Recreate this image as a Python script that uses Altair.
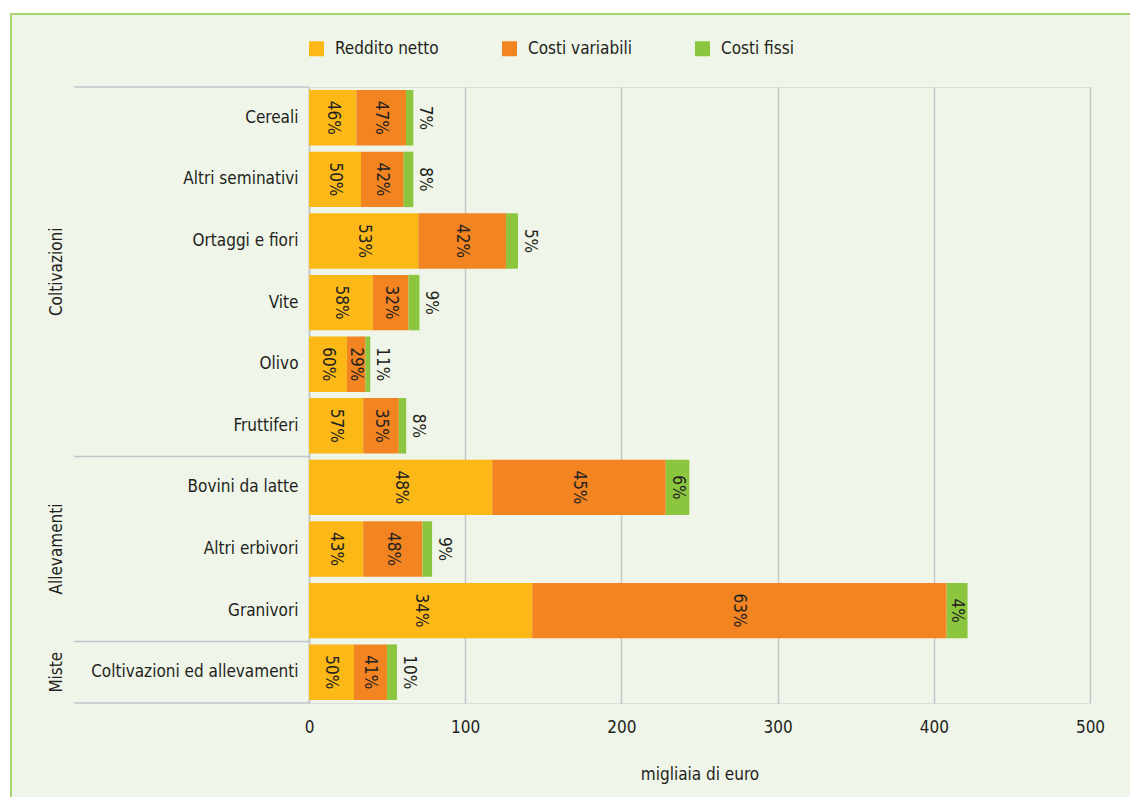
import altair as alt
import pandas as pd

# ---- data ----
categories = ["Cereali", "Altri seminativi", "Ortaggi e fiori", "Vite", "Olivo",
              "Fruttiferi", "Bovini da latte", "Altri erbivori", "Granivori",
              "Coltivazioni ed allevamenti"]
groups = ["Coltivazioni", "Allevamenti", "Miste"]
group_starts = ["Cereali", "Bovini da latte", "Coltivazioni ed allevamenti"]
series = ["Reddito netto", "Costi variabili", "Costi  fissi"]
colors = ["#FBB817", "#F38422", "#8CC63F"]

reddito = [30.3, 33.3, 70.0, 40.9, 24.3, 34.7, 117.3, 34.7, 142.9, 28.8]
variabili = [31.8, 27.3, 56.1, 22.8, 11.9, 22.8, 111.1, 37.9, 265.3, 21.1]
fissi = [4.7, 6.2, 7.7, 7.0, 3.0, 4.7, 15.1, 6.2, 13.4, 6.4]

pct_reddito = [46, 50, 53, 58, 60, 57, 48, 43, 34, 50]
pct_variabili = [47, 42, 42, 32, 29, 35, 45, 48, 63, 41]
pct_fissi = [7, 8, 5, 9, 11, 8, 6, 9, 4, 10]

x_ticks = [0, 100, 200, 300, 400, 500]

FONT = "DejaVu Sans Condensed, DejaVu Sans, sans-serif"
TXT = "#231F20"
LINE = "#BFC5CB"
BG = "#EFF5E8"
BORDER = "#A8D46F"

rows = []
for i, cat in enumerate(categories):
    start = 0.0
    for s, vals, pcts in zip(series, [reddito, variabili, fissi],
                             [pct_reddito, pct_variabili, pct_fissi]):
        v = vals[i]
        end = start + v
        rows.append(dict(cat=cat, serie=s, start=start, end=end,
                         mid=(start + end) / 2, label=f"{pcts[i]}%",
                         outside=bool(s == series[2] and v < 10)))
        start = end
df = pd.DataFrame(rows)

ysc = alt.Scale(domain=categories, paddingInner=0, paddingOuter=0)
xsc = alt.Scale(domain=[0, 500], nice=False)

one = pd.DataFrame({"k": [0]})
# white margins outside the framed panel, and the green frame lines
white_top = alt.Chart(one).mark_rect(fill="white").encode(
    x=alt.value(-320), x2=alt.value(900), y=alt.value(-100), y2=alt.value(-73))
white_left = alt.Chart(one).mark_rect(fill="white").encode(
    x=alt.value(-320), x2=alt.value(-298), y=alt.value(-100), y2=alt.value(800))
border_top = alt.Chart(one).mark_rule(color=BORDER, strokeWidth=2).encode(
    x=alt.value(-299), x2=alt.value(900), y=alt.value(-73))
border_left = alt.Chart(one).mark_rule(color=BORDER, strokeWidth=2).encode(
    x=alt.value(-298), y=alt.value(-74), y2=alt.value(800))

bars = alt.Chart(df).mark_bar(height=alt.RelativeBandSize(0.9)).encode(
    y=alt.Y("cat:N", sort=categories, scale=ysc,
            axis=alt.Axis(title=None, ticks=False, labelPadding=11, labelFontSize=17,
                          labelColor=TXT, labelFont=FONT, labelLimit=400,
                          domainColor=LINE, domainWidth=1.5, grid=False)),
    x=alt.X("start:Q", scale=xsc,
            axis=alt.Axis(values=x_ticks, grid=True, gridColor="#C4C8CB", gridWidth=1.5,
                          ticks=False, domain=False, labelFontSize=17, labelColor=TXT,
                          labelFont=FONT, labelPadding=16, labelFlush=False,
                          title="migliaia di euro",
                          titleFont=FONT, titleFontSize=17, titleFontWeight="normal",
                          titleColor=TXT, titlePadding=31)),
    x2="end:Q",
    color=alt.Color("serie:N", sort=series, scale=alt.Scale(domain=series, range=colors),
                    legend=alt.Legend(title=None, orient="none", legendX=-1, legendY=-47,
                                      direction="horizontal", columns=3, gridAlign="all",
                                      columnPadding=62, symbolType="square",
                                      symbolSize=225, symbolStrokeWidth=0,
                                      labelFontSize=17, labelFont=FONT, labelColor=TXT,
                                      labelOffset=10, padding=0)),
)

inside = alt.Chart(df).transform_filter("!datum.outside").mark_text(
    angle=90, align="center", baseline="middle", fontSize=17, font=FONT, color=TXT
).encode(y=alt.Y("cat:N", sort=categories, scale=ysc), x=alt.X("mid:Q", scale=xsc),
         text="label:N")

outside = alt.Chart(df).transform_filter("datum.outside").mark_text(
    angle=90, align="center", baseline="middle", fontSize=17, font=FONT, color=TXT
).encode(y=alt.Y("cat:N", sort=categories, scale=ysc), x=alt.X("end:Q", scale=xsc),
         xOffset=alt.value(12), text="label:N")

sep = pd.DataFrame({"cat": group_starts})
rules_top = alt.Chart(sep).mark_rule(color=LINE, strokeWidth=1.5).encode(
    y=alt.Y("cat:N", sort=categories, scale=ysc, bandPosition=0),
    x=alt.value(-235), x2=alt.value(0))
rules_bot = alt.Chart(pd.DataFrame({"cat": [categories[-1]]})).mark_rule(
    color=LINE, strokeWidth=1.5).encode(
    y=alt.Y("cat:N", sort=categories, scale=ysc, bandPosition=1),
    x=alt.value(-235), x2=alt.value(0))

g1 = alt.Chart(pd.DataFrame({"g": [groups[0]], "cat": ["Vite"]})).mark_text(
    angle=270, align="center", baseline="middle", fontSize=17, font=FONT, color=TXT
).encode(y=alt.Y("cat:N", sort=categories, scale=ysc, bandPosition=0),
         x=alt.value(-252), text="g:N")
g2 = alt.Chart(pd.DataFrame({"g": groups[1:], "cat": ["Altri erbivori", categories[-1]]})).mark_text(
    angle=270, align="center", baseline="middle", fontSize=17, font=FONT, color=TXT
).encode(y=alt.Y("cat:N", sort=categories, scale=ysc, bandPosition=0.5),
         x=alt.value(-252), text="g:N")

chart = alt.layer(bars, inside, outside, rules_top, rules_bot, g1, g2,
                  white_top, white_left, border_top, border_left).properties(
    width=781, height=616,
    autosize=alt.AutoSizeParams(type="none"),
    padding={"left": 309, "top": 87, "right": 40, "bottom": 94},
    background=BG,
).configure_view(stroke=None).configure(font=FONT)

chart.save("out.html", embed_options={"renderer": "svg", "actions": False})
